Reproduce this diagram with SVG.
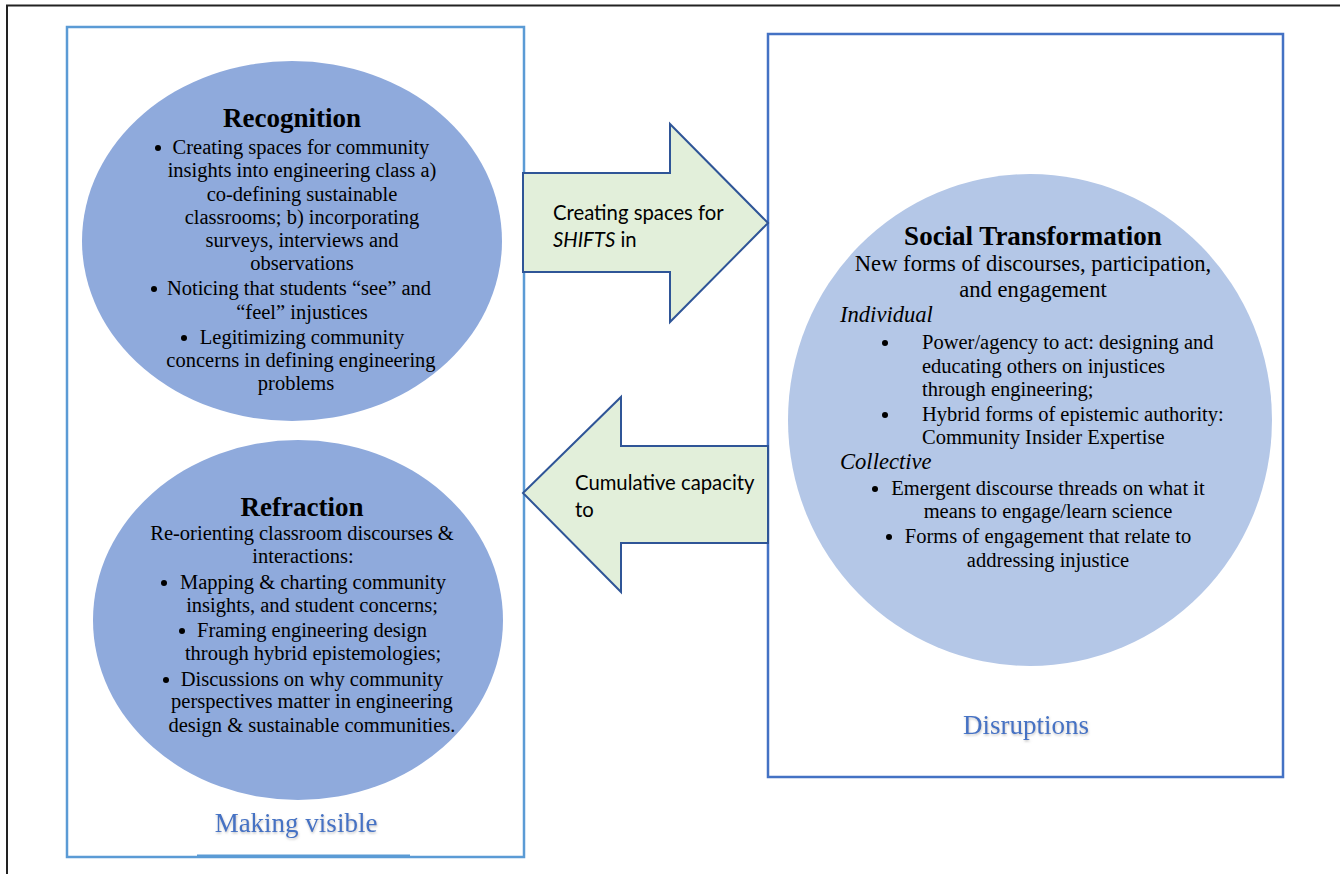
<svg xmlns="http://www.w3.org/2000/svg" width="1340" height="874" viewBox="0 0 1340 874">
<style>
.frame{fill:none;stroke:#222;stroke-width:2}
.lbox{fill:none;stroke:#5B9BD5;stroke-width:2.5}
.rbox{fill:none;stroke:#4472C4;stroke-width:2.5}
.ell{fill:#8FAADC}
.circ{fill:#B4C7E7}
.bul{fill:#000}
.arrow{fill:#E2EFDA;stroke:#2F5597;stroke-width:2;stroke-linejoin:miter}
.t{font-family:"Liberation Serif","Times New Roman",serif;font-size:20.5px;fill:#000}
.c{text-anchor:middle}
.h{font-family:"Liberation Serif","Times New Roman",serif;font-size:27px;font-weight:bold;text-anchor:middle;fill:#000}
.sub{font-family:"Liberation Serif","Times New Roman",serif;font-size:22.6px;fill:#000}
.it{font-style:italic}
.lab{font-family:"Liberation Serif","Times New Roman",serif;font-size:27px;fill:#4472C4;text-anchor:middle}
.at{font-family:Lato,"Liberation Sans",sans-serif;font-size:20.3px;fill:#000}
</style>
<defs>
<filter id="glow" x="-10%" y="-30%" width="120%" height="160%">
<feDropShadow dx="0.5" dy="1.5" stdDeviation="1.2" flood-color="#9a9a9a" flood-opacity="0.6"/>
</filter>
</defs>
<rect width="1340" height="874" fill="#fff"/>
<path class="frame" d="M7,874 V5.5 H1340"/>

<g id="making-visible-box">
<rect class="lbox" x="67" y="27" width="457" height="830"/>
<line x1="197" y1="856" x2="410" y2="856" stroke="#5B9BD5" stroke-width="3"/>
<text class="lab" x="296" y="832" filter="url(#glow)">Making visible</text>
</g>

<g id="disruptions-box">
<rect class="rbox" x="768" y="34" width="515" height="743"/>
<text class="lab" x="1026" y="734" filter="url(#glow)">Disruptions</text>
</g>

<g id="recognition">
<ellipse class="ell" cx="292" cy="241" rx="210" ry="180"/>
<text class="h" x="292" y="127">Recognition</text>
<circle class="bul" cx="158" cy="148" r="3"/>
<text class="t c" x="301" y="154">Creating spaces for community</text>
<text class="t c" x="302" y="177">insights into engineering class a)</text>
<text class="t c" x="302" y="201">co-defining sustainable</text>
<text class="t c" x="302" y="224">classrooms; b) incorporating</text>
<text class="t c" x="302" y="247">surveys, interviews and</text>
<text class="t c" x="302" y="270">observations</text>
<circle class="bul" cx="154" cy="289" r="3"/>
<text class="t c" x="299" y="295">Noticing that students “see” and</text>
<text class="t c" x="302" y="319">“feel” injustices</text>
<circle class="bul" cx="184" cy="338" r="3"/>
<text class="t c" x="302" y="344">Legitimizing community</text>
<text class="t c" x="301" y="367">concerns in defining engineering</text>
<text class="t c" x="296" y="390">problems</text>
</g>

<g id="refraction">
<ellipse class="ell" cx="298" cy="620" rx="205" ry="180"/>
<text class="h" x="302" y="516">Refraction</text>
<text class="t c" x="302" y="540">Re-orienting classroom discourses &amp;</text>
<text class="t c" x="303" y="563">interactions:</text>
<circle class="bul" cx="164" cy="583" r="3"/>
<text class="t c" x="313" y="589">Mapping &amp; charting community</text>
<text class="t c" x="312" y="612">insights, and student concerns;</text>
<circle class="bul" cx="182" cy="631" r="3"/>
<text class="t c" x="312" y="637">Framing engineering design</text>
<text class="t c" x="313" y="660">through hybrid epistemologies;</text>
<circle class="bul" cx="166" cy="680" r="3"/>
<text class="t c" x="312" y="686">Discussions on why community</text>
<text class="t c" x="312" y="708">perspectives matter in engineering</text>
<text class="t c" x="312" y="732">design &amp; sustainable communities.</text>
</g>

<g id="social-transformation">
<ellipse class="circ" cx="1030" cy="420" rx="242" ry="246"/>
<text class="h" x="1033" y="245">Social Transformation</text>
<text class="sub c" x="1033" y="271">New forms of discourses, participation,</text>
<text class="sub c" x="1033" y="297">and engagement</text>
<text class="sub it" x="840" y="322">Individual</text>
<circle class="bul" cx="885" cy="343" r="3"/>
<text class="t" x="922" y="349">Power/agency to act: designing and</text>
<text class="t" x="922" y="373">educating others on injustices</text>
<text class="t" x="922" y="396">through engineering;</text>
<circle class="bul" cx="885" cy="415" r="3"/>
<text class="t" x="922" y="421">Hybrid forms of epistemic authority:</text>
<text class="t" x="922" y="444">Community Insider Expertise</text>
<text class="sub it" x="840" y="469">Collective</text>
<circle class="bul" cx="875" cy="489" r="3"/>
<text class="t c" x="1048" y="495">Emergent discourse threads on what it</text>
<text class="t c" x="1048" y="518">means to engage/learn science</text>
<circle class="bul" cx="889" cy="537" r="3"/>
<text class="t c" x="1048" y="543">Forms of engagement that relate to</text>
<text class="t c" x="1048" y="567">addressing injustice</text>
</g>

<g id="connectors">
<g id="arrow-shifts">
<path class="arrow" d="M523,173 H670 V124 L768,223 L670,322 V272 H523 Z"/>
<text class="at" x="553" y="220">Creating spaces for</text>
<text class="at" x="553" y="247"><tspan font-style="italic">SHIFTS</tspan> in</text>
</g>
<g id="arrow-capacity">
<path class="arrow" d="M768,446 H621 V397 L523,493 L621,592 V543 H768 Z"/>
<text class="at" x="575" y="490">Cumulative capacity</text>
<text class="at" x="575" y="517">to</text>
</g>
</g>
</svg>
